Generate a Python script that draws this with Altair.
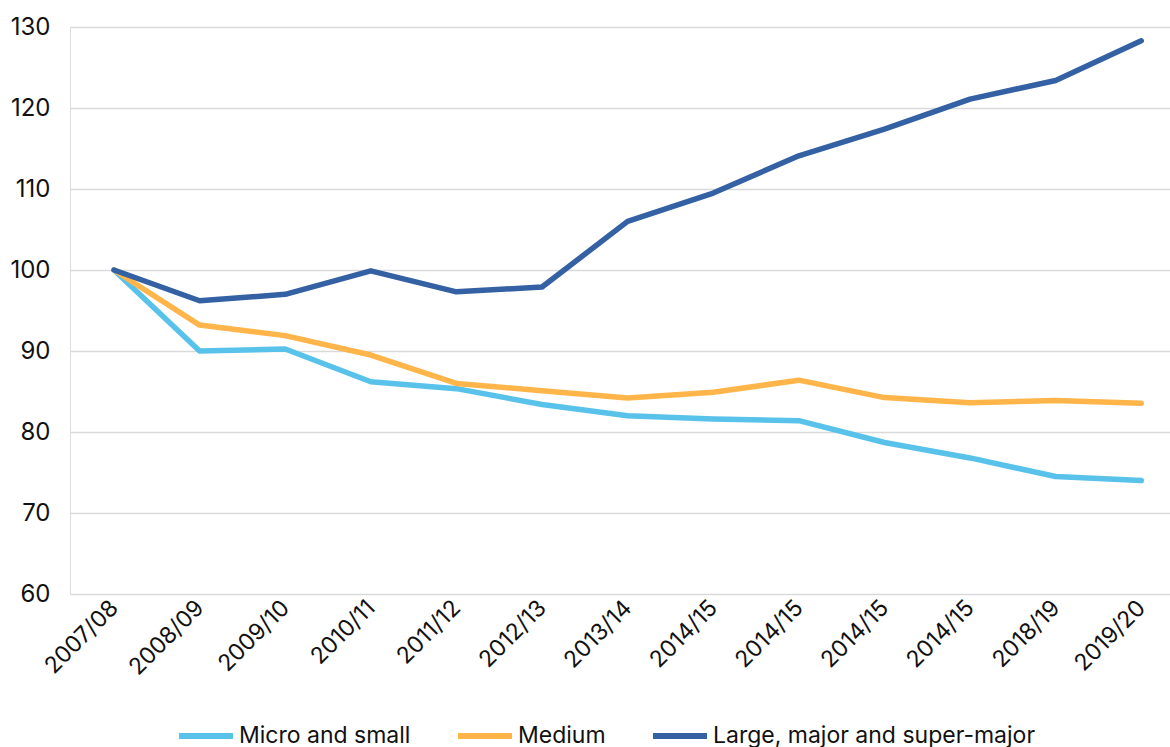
import altair as alt
import pandas as pd

# Financial years on the category axis (the source repeats "2014/15")
periods = ["2007/08", "2008/09", "2009/10", "2010/11", "2011/12", "2012/13",
           "2013/14", "2014/15", "2014/15", "2014/15", "2014/15", "2018/19", "2019/20"]

# Index values, 2007/08 = 100
micro_small = [100, 90.0, 90.25, 86.2, 85.35, 83.4, 82.0, 81.6, 81.4, 78.7, 76.8, 74.5, 74.0]
medium = [100, 93.2, 91.9, 89.5, 86.0, 85.1, 84.2, 84.9, 86.4, 84.25, 83.6, 83.9, 83.55]
large = [100, 96.2, 97.0, 99.9, 97.3, 97.9, 106.0, 109.5, 114.1, 117.4, 121.1, 123.4, 128.3]

series_names = ["Micro and small", "Medium", "Large, major and super-major"]
series_colors = ["#58C2EA", "#FFB54A", "#3461A3"]
y_ticks = [60, 70, 80, 90, 100, 110, 120, 130]

rows = []
for name, values in zip(series_names, [micro_small, medium, large]):
    for i, v in enumerate(values):
        rows.append({"idx": i, "period": periods[i], "series": name, "value": v})
df = pd.DataFrame(rows)

FONT = "Inter"
label_expr = "[" + ", ".join(f"'{p}'" for p in periods) + "][datum.value]"

chart = alt.Chart(df).mark_line(strokeWidth=5.5, strokeCap="round", strokeJoin="round").encode(
    x=alt.X(
        "idx:Q",
        scale=alt.Scale(domain=[-0.514, 12.336], nice=False, zero=False),
        axis=alt.Axis(
            values=list(range(len(periods))),
            labelExpr=label_expr,
            labelAngle=-45,
            labelAlign="right",
            labelBaseline="middle",
            labelPadding=10,
            labelFontSize=23,
            labelFont=FONT,
            labelColor="#111111",
            labelOverlap=False,
            labelFlush=False,
            labelBound=False,
            grid=False,
            domain=False,
            ticks=False,
            title=None,
        ),
    ),
    y=alt.Y(
        "value:Q",
        scale=alt.Scale(domain=[60, 130], nice=False, zero=False),
        axis=alt.Axis(
            values=y_ticks,
            labelFontSize=24,
            labelFont=FONT,
            labelColor="#111111",
            labelPadding=20,
            grid=True,
            gridColor="#D9D9D9",
            gridWidth=1.6,
            domain=False,
            ticks=False,
            title=None,
        ),
    ),
    color=alt.Color(
        "series:N",
        scale=alt.Scale(domain=series_names, range=series_colors),
        sort=series_names,
        legend=alt.Legend(
            title=None,
            orient="none",
            direction="horizontal",
            legendX=106,
            legendY=679,
            symbolType="stroke",
            symbolSize=2916,
            symbolStrokeWidth=6,
            labelFontSize=23,
            labelFont=FONT,
            labelColor="#111111",
            labelOffset=3,
            columnPadding=35,
            labelLimit=500,
        ),
    ),
    order="idx:Q",
).properties(
    width=1100,
    height=567,
    autosize=alt.AutoSizeParams(type="none"),
    padding={"left": 70, "top": 27, "right": 0, "bottom": 153},
).configure_view(stroke=None).configure(background="white")

chart.save("out.html", embed_options={"renderer": "svg", "actions": False})
